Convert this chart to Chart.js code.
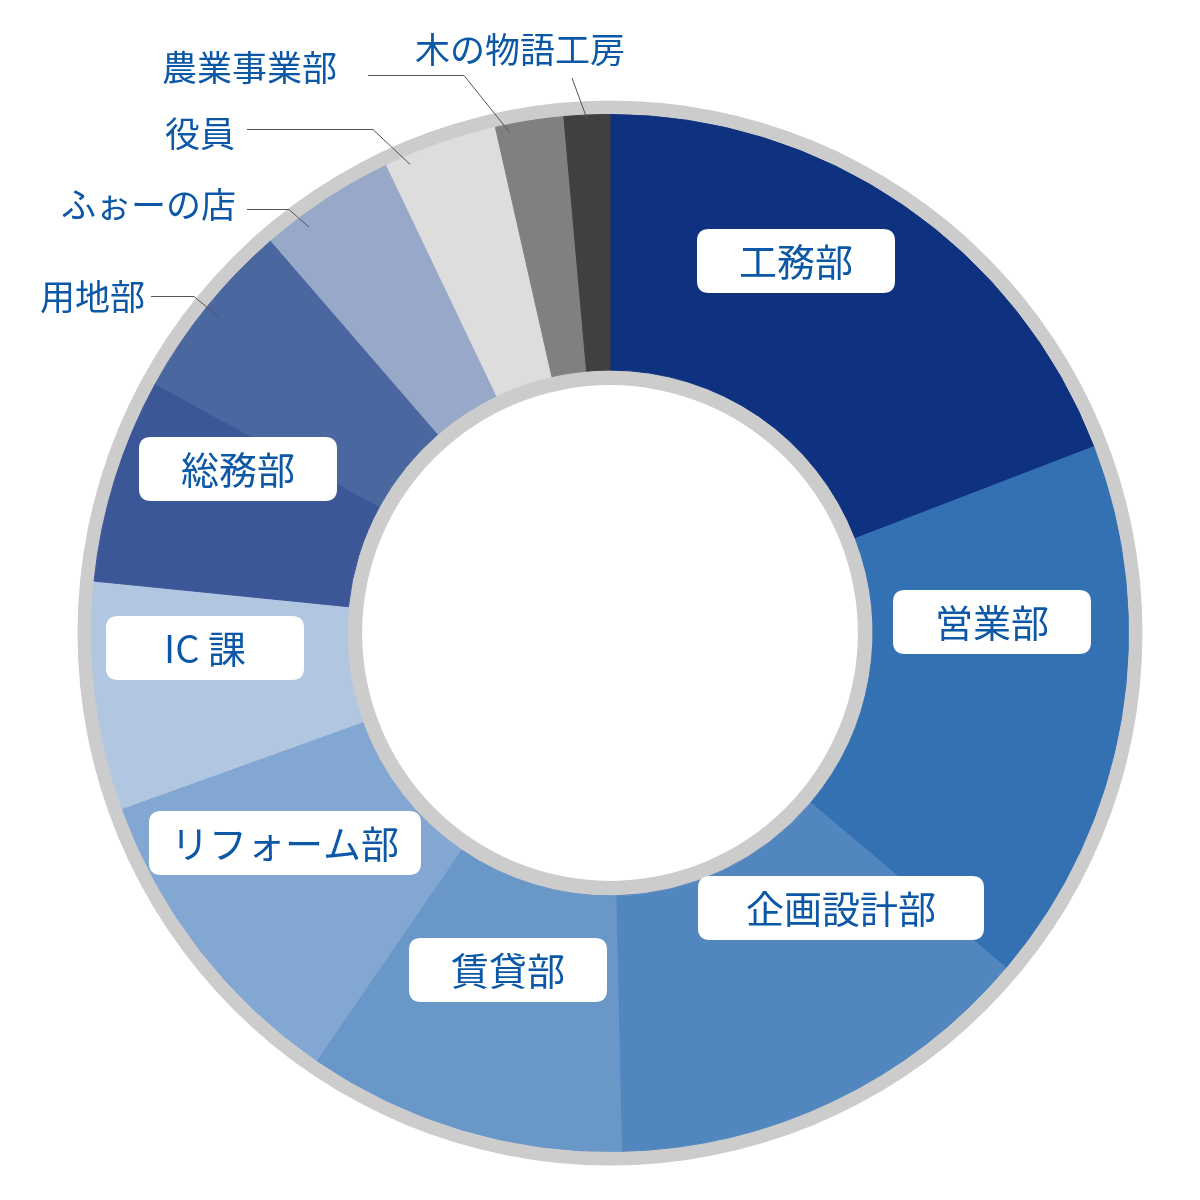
<!DOCTYPE html>
<html lang="ja">
<head>
<meta charset="UTF-8">
<title>部署別構成</title>
<style>
  body { margin: 0; background: #fff; }
  #wrap { width: 1200px; height: 1200px; }
</style>
</head>
<body>
<div id="wrap"><canvas id="chart" width="1200" height="1200"></canvas></div>
<script src="https://cdn.jsdelivr.net/npm/chart.js"></script>
<script>
// 部署と人数 (時計回り、12時から)
const departments = ['工務部', '営業部', '企画設計部', '賃貸部', 'リフォーム部', 'IC 課', '総務部', '用地部', 'ふぉーの店', '役員', '農業事業部', '木の物語工房'];
const headcount = [27, 24, 19, 14, 14, 10, 9, 8, 6, 5, 3, 2];
const sliceColors = ['#0e3180', '#3371b3', '#5186bf', '#6897c8', '#82a7d2', '#b0c6e1', '#3b5797', '#4a67a0', '#97a8c9', '#dddddd', '#808080', '#404040'];

const TEXT_COLOR = '#0c58a6';
const FONT = '"Noto Sans CJK JP", "Noto Sans", sans-serif';

// labels in white boxes: box centre offset from the chart centre, box width
const boxLayout = {
  '工務部': [186, -372, 198],
  '営業部': [382, -11, 198],
  '企画設計部': [231, 275, 286],
  '賃貸部': [-102, 337, 198],
  'リフォーム部': [-325, 210, 272],
  'IC 課': [-405, 15, 198],
  '総務部': [-372, -164, 198]
};

// labels outside with a leader line: text right edge / y, line start x, elbow x, line y,
// where the line meets the slice (fraction of the slice angle, inset from outer edge)
const calloutLayout = {
  '用地部': { tx: 145, ty: 297, x0: 151, ex: 194, ly: 296, at: 0.5, inset: 15 },
  'ふぉーの店': { tx: 236, ty: 205, x0: 247, ex: 289, ly: 209, at: 0.28, inset: 13 },
  '役員': { tx: 235, ty: 134, x0: 247, ex: 373, ly: 129, at: 0.19, inset: 9 },
  '農業事業部': { tx: 337, ty: 68, x0: 368, ex: 464, ly: 75, at: 0.18, inset: 7 }
};
// the top one sits above its slice
const topCallout = { name: '木の物語工房', cx: 520, cy: 50, lx: 572, ly: 78, at: 0.5, inset: 4 };

function roundRect(ctx, x, y, w, h, r) {
  ctx.beginPath();
  ctx.moveTo(x + r, y);
  ctx.lineTo(x + w - r, y);
  ctx.quadraticCurveTo(x + w, y, x + w, y + r);
  ctx.lineTo(x + w, y + h - r);
  ctx.quadraticCurveTo(x + w, y + h, x + w - r, y + h);
  ctx.lineTo(x + r, y + h);
  ctx.quadraticCurveTo(x, y + h, x, y + h - r);
  ctx.lineTo(x, y + r);
  ctx.quadraticCurveTo(x, y, x + r, y);
  ctx.closePath();
}

// grey rings outside and inside the doughnut
const ringPlugin = {
  id: 'greyRing',
  beforeDatasetsDraw(chart) {
    const arc = chart.getDatasetMeta(0).data[0];
    const { x, y, outerRadius, innerRadius } = arc.getProps(['x', 'y', 'outerRadius', 'innerRadius'], true);
    const ctx = chart.ctx;
    ctx.save();
    ctx.fillStyle = '#cccccc';
    ctx.beginPath();
    ctx.arc(x, y, outerRadius + 14, 0, Math.PI * 2);
    ctx.fill();
    ctx.fillStyle = '#ffffff';
    ctx.beginPath();
    ctx.arc(x, y, innerRadius - 15, 0, Math.PI * 2);
    ctx.fill();
    ctx.restore();
  }
};

// point inside a slice, near its outer edge
function arcPoint(arc, at, inset) {
  const p = arc.getProps(['x', 'y', 'startAngle', 'endAngle', 'outerRadius'], true);
  const a = p.startAngle + (p.endAngle - p.startAngle) * at;
  const r = p.outerRadius - inset;
  return { x: p.x + Math.cos(a) * r, y: p.y + Math.sin(a) * r };
}

const labelPlugin = {
  id: 'sliceLabels',
  afterDatasetsDraw(chart) {
    const ctx = chart.ctx;
    const arcs = chart.getDatasetMeta(0).data;
    const cx = arcs[0].x, cy = arcs[0].y;
    ctx.save();
    ctx.textBaseline = 'middle';

    // boxed labels
    ctx.font = '38px ' + FONT;
    departments.forEach((name) => {
      const b = boxLayout[name];
      if (!b) return;
      const bx = cx + b[0], by = cy + b[1], w = b[2], h = 64;
      ctx.fillStyle = '#ffffff';
      roundRect(ctx, bx - w / 2, by - h / 2, w, h, 12);
      ctx.fill();
      ctx.fillStyle = TEXT_COLOR;
      ctx.textAlign = 'center';
      ctx.fillText(name, bx, by + 1);
    });

    // callouts
    ctx.font = '35px ' + FONT;
    ctx.strokeStyle = '#555555';
    ctx.lineWidth = 1;
    departments.forEach((name, i) => {
      const c = calloutLayout[name];
      if (!c) return;
      const end = arcPoint(arcs[i], c.at, c.inset);
      ctx.fillStyle = TEXT_COLOR;
      ctx.textAlign = 'right';
      ctx.fillText(name, c.tx, c.ty);
      ctx.beginPath();
      ctx.moveTo(c.x0, c.ly + 0.5);
      ctx.lineTo(c.ex, c.ly + 0.5);
      ctx.lineTo(end.x, end.y);
      ctx.stroke();
    });

    const ti = departments.indexOf(topCallout.name);
    const tEnd = arcPoint(arcs[ti], topCallout.at, topCallout.inset);
    ctx.fillStyle = TEXT_COLOR;
    ctx.textAlign = 'center';
    ctx.fillText(topCallout.name, topCallout.cx, topCallout.cy);
    ctx.beginPath();
    ctx.moveTo(topCallout.lx, topCallout.ly);
    ctx.lineTo(tEnd.x, tEnd.y);
    ctx.stroke();

    ctx.restore();
  }
};

const chartCtx = document.getElementById('chart').getContext('2d');
new Chart(chartCtx, {
  type: 'doughnut',
  data: {
    labels: departments,
    datasets: [{
      data: headcount,
      backgroundColor: sliceColors,
      borderColor: sliceColors,
      borderWidth: 1,
      hoverOffset: 0
    }]
  },
  options: {
    responsive: false,
    animation: false,
    cutout: '50.7%',
    layout: { padding: { left: 91, right: 71, top: 114, bottom: 48 } },
    plugins: {
      legend: { display: false },
      tooltip: { enabled: false }
    }
  },
  plugins: [ringPlugin, labelPlugin]
});
</script>
</body>
</html>
